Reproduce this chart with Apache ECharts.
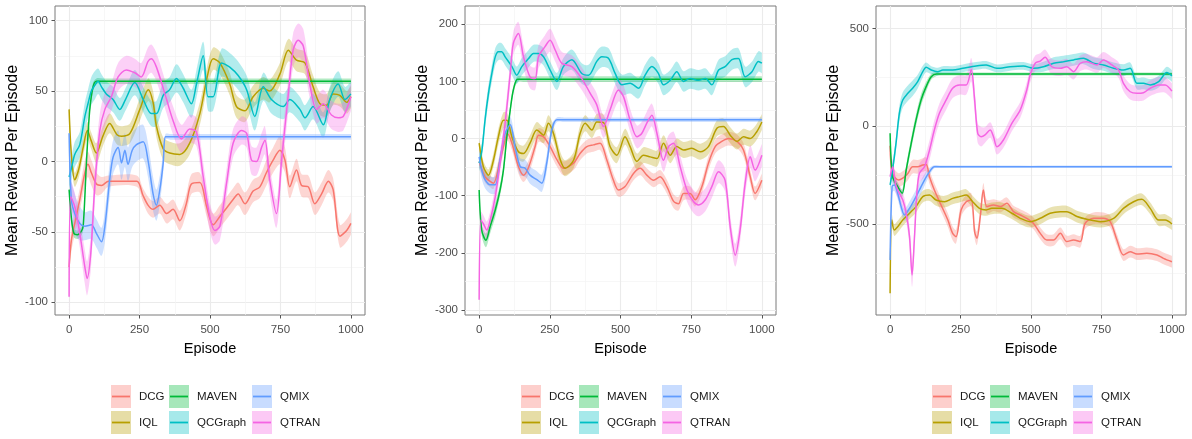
<!DOCTYPE html>
<html>
<head>
<meta charset="utf-8">
<title>Mean Reward Per Episode</title>
<script src="https://cdn.jsdelivr.net/npm/echarts@6/dist/echarts.min.js"></script>
<style>
  html, body { margin: 0; padding: 0; background: #ffffff; }
  #chart { width: 1192px; height: 439px; }
</style>
</head>
<body>
<div id="chart"></div>
<script>
// Methods and their ggplot-style hue colours
const methods = ['DCG', 'IQL', 'MAVEN', 'QCGraph', 'QMIX', 'QTRAN'];
const colors = ['#F8766D', '#B79F00', '#00BA38', '#00BFC4', '#619CFF', '#F564E3'];

// Tick labels
const xTicks = [0, 250, 500, 750, 1000];
const xMinor = [125, 375, 625, 875];
const p1Ticks = [-100, -50, 0, 50, 100];
const p1Minor = [-75, -25, 25, 75];
const p2Ticks = [-300, -200, -100, 0, 100, 200];
const p2Minor = [-250, -150, -50, 50, 150];
const p3Ticks = [-500, 0, 500];
const p3Minor = [-750, -250, 250];

// Each point: [episode, mean reward, half width of the confidence band]
// ---- panel 1 ----
const p1DCG = [[0,-75,8],[8,-56,8],[20,-44,8],[38,-27,8],[56,-8,9],[67,-2,9],[79,-8,9],[97,-16,8],[115,-17,6],[140,-14,4],[240,-14,4],[262,-24,5],[280,-31,6],[298,-34,6],[322,-31,6],[346,-37,7],[369,-34,7],[393,-42,7],[416,-30,7],[434,-16,7],[464,-15,7],[488,-32,7],[511,-45,8],[535,-39,8],[559,-33,8],[582,-27,8],[600,-23,8],[624,-30,8],[653,-21,8],[677,-18,8],[700,-8,9],[724,1,9],[748,8,10],[766,1,9],[783,-18,8],[807,-6,8],[825,-17,8],[849,-18,8],[872,-30,8],[896,-23,8],[920,-14,8],[937,-20,8],[961,-53,8],[985,-49,8],[1000,-44,8]];
const p1IQL = [[0,37,6],[8,5,6],[20,-13,5],[35,-5,6],[50,10,6],[65,22,6],[78,15,6],[97,6,7],[120,18,7],[144,27,7],[170,19,7],[186,18,7],[216,20,7],[251,37,8],[281,51,8],[298,42,8],[310,25,8],[334,9,8],[357,6,8],[393,5,8],[428,13,8],[464,34,8],[490,60,8],[511,73,8],[535,70,8],[570,55,8],[594,39,8],[624,36,8],[653,46,8],[689,52,8],[712,50,8],[748,62,8],[778,79,8],[807,72,8],[837,70,8],[866,53,8],[890,41,8],[914,40,8],[937,48,8],[961,47,8],[985,42,8],[1000,46,8]];
const p1MAVEN = [[0,-20,3],[8,-40,3],[17,-51,3],[30,-52,3],[42,-50,3],[50,-46,3],[62,1,3],[73,36,3],[85,53,3],[97,57,2],[120,57,2],[1000,57,2]];
const p1QCGraph = [[0,-11,8],[8,-5,8],[20,5,9],[38,12,9],[56,32,10],[67,41,10],[79,50,10],[91,54,10],[103,57,9],[115,53,9],[132,48,9],[156,44,9],[180,37,8],[200,44,8],[233,56,9],[263,44,9],[292,34,9],[310,34,9],[334,47,9],[357,51,9],[381,59,10],[405,52,10],[434,41,10],[452,55,10],[476,75,10],[493,46,10],[511,46,10],[541,70,10],[570,67,10],[600,61,10],[630,51,10],[659,32,10],[689,53,10],[718,44,10],[760,39,9],[783,44,9],[819,37,9],[837,31,9],[866,39,9],[902,26,9],[925,44,9],[955,55,9],[979,44,9],[1000,48,9]];
const p1QMIX = [[0,20,15],[8,-27,15],[20,-37,14],[38,-44,12],[56,-46,10],[79,-45,10],[97,-51,10],[115,-57,10],[127,-46,11],[144,-13,12],[156,3,12],[174,10,12],[186,-1,12],[198,8,12],[209,-2,12],[224,8,12],[239,12,12],[263,14,12],[280,1,12],[298,-23,12],[310,-31,11],[322,-20,10],[334,-1,7],[342,17.5,2],[360,17.5,2],[1000,17.5,2]];
const p1QTRAN = [[0,-96,10],[6,-25,10],[20,-32,10],[38,-51,10],[56,-75,12],[64,-83,12],[77,-65,12],[91,-18,12],[109,22,12],[127,37,12],[150,46,10],[174,60,10],[203,65,10],[233,63,10],[256,60,10],[280,71,10],[292,73,10],[310,67,10],[346,44,10],[369,29,10],[399,16,10],[428,23,10],[452,21,10],[476,-11,10],[499,-39,10],[517,-49,10],[535,-46,10],[559,-15,10],[582,13,10],[612,22,10],[630,20,10],[647,1,10],[665,0,10],[683,10,10],[695,15,10],[712,-13,10],[736,-37,10],[754,1,12],[778,48,12],[795,79,12],[813,86,12],[831,82,12],[854,55,10],[878,37,10],[902,41,10],[931,33,10],[955,31,10],[973,32,10],[1000,46,10]];

// ---- panel 2 ----
const p2DCG = [[0,-40,10],[21,-67,10],[39,-75,10],[51,-78,10],[74,-38,12],[92,-2,12],[100,9,12],[116,-8,12],[139,-49,12],[157,-64,12],[175,-50,12],[198,-14,12],[210,6,12],[228,3,12],[251,-14,12],[275,-37,12],[298,-52,12],[334,-43,12],[357,-26,12],[381,-14,12],[404,-11,12],[428,-8,12],[452,-38,12],[475,-73,12],[493,-90,12],[516,-84,12],[546,-61,12],[570,-52,12],[593,-64,12],[617,-73,12],[640,-67,12],[664,-84,12],[688,-110,12],[705,-114,12],[723,-96,12],[746,-96,12],[764,-107,12],[788,-84,12],[811,-43,12],[835,-14,12],[858,-5,12],[882,0,12],[912,-5,12],[935,-20,12],[959,-67,12],[976,-96,12],[1000,-73,12]];
const p2IQL = [[0,-8,10],[15,-49,10],[33,-64,10],[51,-37,12],[68,3,14],[86,32,14],[98,32,14],[116,3,14],[139,-23,14],[157,-26,14],[180,-8,14],[204,15,14],[228,6,14],[245,27,14],[263,9,14],[287,-37,14],[304,-52,14],[334,-38,14],[357,9,14],[375,27,14],[399,15,14],[416,29,14],[440,28,14],[463,-14,14],[487,-29,14],[516,3,14],[534,-14,14],[558,-40,14],[581,-29,14],[605,-32,14],[629,-35,14],[652,-8,14],[676,-29,14],[699,-14,14],[723,-20,14],[752,-17,14],[782,-23,14],[811,-14,14],[841,18,14],[864,21,14],[888,6,14],[912,-5,14],[935,3,14],[959,0,14],[982,12,14],[1000,29,14]];
const p2MAVEN = [[0,-90,6],[9,-160,10],[24,-178,12],[39,-154,12],[57,-125,12],[74,-90,10],[86,-55,10],[98,3,10],[110,50,8],[121,85,6],[136,104,5],[160,104,5],[1000,104,5]];
const p2QCGraph = [[0,-43,15],[10,-20,15],[21,33,15],[33,79,15],[45,114,15],[57,143,15],[68,152,15],[80,152,15],[92,143,15],[116,126,15],[133,111,15],[151,126,15],[175,140,15],[192,149,15],[210,149,15],[228,143,15],[251,120,15],[275,100,15],[298,126,15],[328,138,18],[363,114,18],[387,111,18],[416,135,18],[434,143,18],[458,140,18],[481,114,18],[505,94,18],[534,97,18],[564,88,18],[587,111,18],[611,126,18],[634,114,18],[652,94,18],[676,102,18],[699,117,18],[723,100,18],[746,105,18],[776,102,18],[800,105,18],[823,94,18],[847,120,18],[870,126,18],[894,138,18],[917,140,18],[941,108,18],[965,117,18],[988,135,18],[1000,132,18]];
const p2QMIX = [[0,-32,15],[9,-55,15],[21,-72,15],[39,-81,15],[57,-81,15],[74,-37,15],[92,9,15],[110,24,15],[127,-14,15],[145,-49,15],[163,-52,15],[180,-64,15],[204,-72,15],[222,-78,15],[239,-43,15],[257,15,10],[275,33,4],[300,33,4],[1000,33,4]];
const p2QTRAN = [[0,-282,10],[6,-143,15],[15,-149,15],[27,-160,15],[39,-143,15],[57,-102,18],[74,-43,18],[92,27,20],[110,114,20],[121,167,20],[139,184,20],[157,143,20],[180,108,20],[198,105,20],[210,143,20],[233,161,20],[251,172,20],[269,155,20],[292,132,20],[328,126,20],[363,105,20],[393,79,20],[416,59,20],[440,21,20],[463,50,20],[493,85,20],[511,73,20],[534,32,20],[558,3,20],[575,9,20],[593,27,20],[611,41,20],[629,9,20],[652,-38,20],[670,-14,20],[688,-8,20],[711,-49,20],[735,-90,20],[758,-110,20],[776,-116,20],[800,-107,20],[823,-84,20],[847,-58,20],[870,-73,20],[888,-154,20],[906,-204,20],[923,-160,20],[941,-78,20],[959,-32,20],[976,-55,20],[1000,-29,20]];

// ---- panel 3 ----
const p3DCG = [[0,-100,40],[8,-240,40],[30,-275,35],[45,-265,35],[63,-241,35],[80,-207,35],[98,-207,35],[116,-198,35],[128,-195,35],[140,-260,35],[157,-326,35],[181,-403,35],[205,-480,35],[222,-548,35],[234,-565,35],[252,-428,35],[270,-386,35],[288,-377,35],[300,-540,35],[308,-573,35],[320,-462,35],[331,-326,35],[343,-411,35],[367,-403,30],[391,-411,30],[414,-394,30],[438,-437,30],[462,-454,30],[485,-471,30],[509,-497,30],[533,-548,30],[556,-582,30],[580,-582,30],[604,-548,30],[627,-590,30],[651,-582,30],[675,-590,30],[692,-497,30],[722,-471,30],[757,-471,30],[781,-488,30],[805,-582,30],[828,-659,30],[852,-642,30],[876,-654,30],[911,-650,30],[947,-659,30],[970,-676,30],[1000,-693,30]];
const p3IQL = [[0,-855,20],[6,-480,30],[15,-531,30],[27,-514,30],[45,-480,30],[69,-445,30],[92,-411,30],[116,-360,30],[140,-352,30],[163,-377,30],[193,-386,30],[222,-369,30],[246,-360,30],[270,-352,30],[293,-386,30],[317,-420,30],[341,-428,30],[361,-420,30],[396,-420,30],[432,-445,30],[462,-471,30],[497,-488,30],[533,-471,30],[568,-445,30],[604,-437,30],[627,-437,30],[663,-462,30],[698,-476,30],[746,-488,30],[793,-471,30],[828,-420,30],[864,-386,30],[893,-374,30],[923,-420,30],[953,-480,30],[976,-480,30],[1000,-500,30]];
const p3MAVEN = [[0,-36,10],[9,-258,20],[27,-309,20],[43,-343,20],[57,-224,25],[75,-87,30],[92,32,30],[110,135,30],[128,203,25],[146,254,15],[165,268,10],[185,268,8],[1000,268,8]];
const p3QCGraph = [[0,-300,30],[7,-241,30],[21,-87,35],[33,67,40],[45,135,40],[63,169,40],[80,195,40],[98,229,35],[116,280,30],[128,302,25],[146,288,20],[169,280,20],[187,288,20],[222,288,20],[258,297,20],[305,309,20],[341,314,20],[379,297,20],[426,305,20],[473,309,20],[509,297,20],[544,305,25],[580,323,30],[615,331,30],[651,340,30],[686,348,30],[722,323,30],[757,314,30],[793,297,30],[828,288,30],[852,297,30],[876,220,30],[899,220,30],[923,212,30],[953,229,30],[982,275,30],[1000,258,30]];
const p3QMIX = [[0,-684,20],[7,-309,30],[15,-300,30],[27,-343,30],[39,-411,30],[51,-454,30],[69,-420,35],[86,-377,35],[104,-326,35],[122,-275,30],[140,-232,20],[157,-207,8],[180,-207,6],[1000,-207,6]];
const p3QTRAN = [[0,-258,40],[9,-207,40],[19,-292,40],[27,-326,40],[45,-377,40],[57,-445,40],[69,-565,50],[78,-761,60],[86,-582,60],[95,-343,50],[104,-241,50],[122,-207,50],[140,-121,50],[157,-19,50],[175,67,50],[199,135,50],[222,195,50],[246,212,50],[270,212,50],[288,290,60],[299,152,60],[311,-36,50],[323,-53,50],[337,-44,40],[355,-19,40],[367,-53,40],[379,-104,40],[402,-70,40],[432,15,40],[462,84,40],[485,186,40],[497,263,40],[515,323,40],[533,334,40],[550,353,40],[574,305,40],[604,297,40],[627,305,40],[651,280,40],[675,323,40],[698,331,40],[734,314,40],[757,340,40],[787,314,40],[811,288,40],[828,220,40],[852,177,40],[876,169,40],[899,172,40],[923,195,40],[953,212,40],[976,212,40],[1000,180,40]];

const panelData = [
  [p1DCG, p1IQL, p1MAVEN, p1QCGraph, p1QMIX, p1QTRAN],
  [p2DCG, p2IQL, p2MAVEN, p2QCGraph, p2QMIX, p2QTRAN],
  [p3DCG, p3IQL, p3MAVEN, p3QCGraph, p3QMIX, p3QTRAN]
];
const yTicks = [p1Ticks, p2Ticks, p3Ticks];
const yMinor = [p1Minor, p2Minor, p3Minor];

// Panel layout (pixel boxes) and padded axis ranges
const layout = [
  { left: 55,  width: 310, yMin: -109,   yMax: 110.4, legendX: 111 },
  { left: 465, width: 311, yMin: -308.7, yMax: 232,   legendX: 521 },
  { left: 876, width: 310, yMin: -966,   yMax: 616,   legendX: 932 }
];
const PLOT_TOP = 6, PLOT_H = 309;
const X_MIN = -50, X_MAX = 1050;
const SMOOTH = 0.3;

function rgba(hex, a) {
  const n = parseInt(hex.slice(1), 16);
  return 'rgba(' + ((n >> 16) & 255) + ',' + ((n >> 8) & 255) + ',' + (n & 255) + ',' + a + ')';
}

// Cubic segments through pixel points, same control-point rule as the line smoothing
function curveSegments(pts, smooth) {
  const n = pts.length;
  const inC = [], outC = [];
  for (let i = 0; i < n; i++) {
    const cur = pts[i];
    const prev = pts[i > 0 ? i - 1 : i];
    const next = pts[i < n - 1 ? i + 1 : i];
    if (i === 0 || i === n - 1) { inC.push(cur); outC.push(cur); continue; }
    const vx = next[0] - prev[0], vy = next[1] - prev[1];
    const lp = Math.hypot(cur[0] - prev[0], cur[1] - prev[1]);
    const ln = Math.hypot(next[0] - cur[0], next[1] - cur[1]);
    const r = (lp + ln) > 0 ? ln / (lp + ln) : 0.5;
    inC.push([cur[0] - vx * smooth * (1 - r), cur[1] - vy * smooth * (1 - r)]);
    outC.push([cur[0] + vx * smooth * r, cur[1] + vy * smooth * r]);
  }
  let d = '';
  for (let i = 0; i < n - 1; i++) {
    const a = outC[i], b = inC[i + 1], p = pts[i + 1];
    d += ' C' + a[0].toFixed(2) + ',' + a[1].toFixed(2) + ' ' + b[0].toFixed(2) + ',' + b[1].toFixed(2) + ' ' + p[0].toFixed(2) + ',' + p[1].toFixed(2);
  }
  return d;
}

const grids = [], xAxes = [], yAxes = [], series = [], graphics = [];
const tickFont = { fontFamily: 'Liberation Sans, Arial, sans-serif', fontSize: 11.5, color: '#4D4D4D' };
const BAND_ALPHA = 0.3;

layout.forEach((L, p) => {
  grids.push({
    left: L.left, top: PLOT_TOP, width: L.width, height: PLOT_H,
    show: true, borderColor: '#7a7a7a', borderWidth: 1, backgroundColor: 'transparent'
  });
  const xi = p * 2, yi = p * 2;
  // major x axis
  xAxes.push({
    type: 'value', gridIndex: p, min: X_MIN, max: X_MAX, position: 'bottom',
    axisLine: { show: false, onZero: false },
    axisTick: { show: true, length: 3.5, customValues: xTicks, lineStyle: { color: '#555', width: 1 } },
    axisLabel: Object.assign({ customValues: xTicks, margin: 9, formatter: v => String(v) }, tickFont),
    splitLine: { show: true, lineStyle: { color: '#EBEBEB', width: 1.1 } },
    name: 'Episode', nameLocation: 'middle', nameGap: 26,
    nameTextStyle: { fontFamily: 'Liberation Sans, Arial, sans-serif', fontSize: 14.5, color: '#000' }
  });
  // minor x grid
  xAxes.push({
    type: 'value', gridIndex: p, min: X_MIN, max: X_MAX, position: 'top',
    axisLine: { show: false, onZero: false },
    axisTick: { show: false, customValues: xMinor },
    axisLabel: { show: false, customValues: xMinor },
    splitLine: { show: true, lineStyle: { color: '#F3F3F3', width: 0.7 } }
  });
  // major y axis
  yAxes.push({
    type: 'value', gridIndex: p, min: L.yMin, max: L.yMax, position: 'left',
    axisLine: { show: false, onZero: false },
    axisTick: { show: true, length: 3.5, customValues: yTicks[p], lineStyle: { color: '#555', width: 1 } },
    axisLabel: Object.assign({ customValues: yTicks[p], margin: 7, formatter: v => String(v) }, tickFont),
    splitLine: { show: true, lineStyle: { color: '#EBEBEB', width: 1.1 } },
    name: 'Mean Reward Per Episode', nameLocation: 'middle', nameGap: 31,
    nameTextStyle: { fontFamily: 'Liberation Sans, Arial, sans-serif', fontSize: 16, color: '#000' }
  });
  // minor y grid
  yAxes.push({
    type: 'value', gridIndex: p, min: L.yMin, max: L.yMax, position: 'right',
    axisLine: { show: false, onZero: false },
    axisTick: { show: false, customValues: yMinor[p] },
    axisLabel: { show: false, customValues: yMinor[p] },
    splitLine: { show: true, lineStyle: { color: '#F3F3F3', width: 0.7 } }
  });

  // confidence bands: one filled path per method, built from the axis scales
  methods.forEach((m, k) => {
    const pts = panelData[p][k];
    series.push({
      type: 'custom', name: m + ' band', xAxisIndex: xi, yAxisIndex: yi,
      silent: true, z: 1, clip: true,
      data: [[pts[0][0], pts[0][1]]],
      renderItem: (params, api) => {
        const upper = pts.map(d => api.coord([d[0], d[1] + d[2]]));
        const lower = pts.map(d => api.coord([d[0], d[1] - d[2]])).reverse();
        let path = 'M' + upper[0][0].toFixed(2) + ',' + upper[0][1].toFixed(2);
        path += curveSegments(upper, SMOOTH);
        path += ' L' + lower[0][0].toFixed(2) + ',' + lower[0][1].toFixed(2);
        path += curveSegments(lower, SMOOTH);
        path += ' Z';
        return {
          type: 'path',
          shape: { pathData: path },
          style: { fill: rgba(colors[k], BAND_ALPHA), stroke: null }
        };
      }
    });
  });
  // mean lines
  methods.forEach((m, k) => {
    const pts = panelData[p][k];
    series.push({
      type: 'line', name: m, xAxisIndex: xi, yAxisIndex: yi,
      smooth: SMOOTH, symbol: 'none', silent: true, z: 2,
      lineStyle: { color: colors[k], width: 1.5 },
      data: pts.map(d => [d[0], d[1]])
    });
  });

  // legend keys: three columns, two rows (column-major order)
  const colOff = [0, 58, 141];
  const rowTop = [385, 411];
  methods.forEach((m, k) => {
    const col = Math.floor(k / 2), row = k % 2;
    const kx = L.legendX + colOff[col], ky = rowTop[row];
    graphics.push({
      type: 'rect', shape: { x: kx, y: ky, width: 20, height: 23 },
      style: { fill: rgba(colors[k], 0.35) }, silent: true
    });
    graphics.push({
      type: 'line', shape: { x1: kx + 1, y1: ky + 11.5, x2: kx + 19, y2: ky + 11.5 },
      style: { stroke: colors[k], lineWidth: 1.8 }, silent: true
    });
    graphics.push({
      type: 'text', x: kx + 28, y: ky + 12,
      style: { text: m, fill: '#1a1a1a', font: '11.5px "Liberation Sans", Arial, sans-serif', verticalAlign: 'middle', align: 'left' },
      silent: true
    });
  });
});

const chart = echarts.init(document.getElementById('chart'), null, { renderer: 'canvas' });
chart.setOption({
  animation: false,
  backgroundColor: '#ffffff',
  grid: grids,
  xAxis: xAxes,
  yAxis: yAxes,
  series: series,
  graphic: graphics
});
</script>
</body>
</html>
